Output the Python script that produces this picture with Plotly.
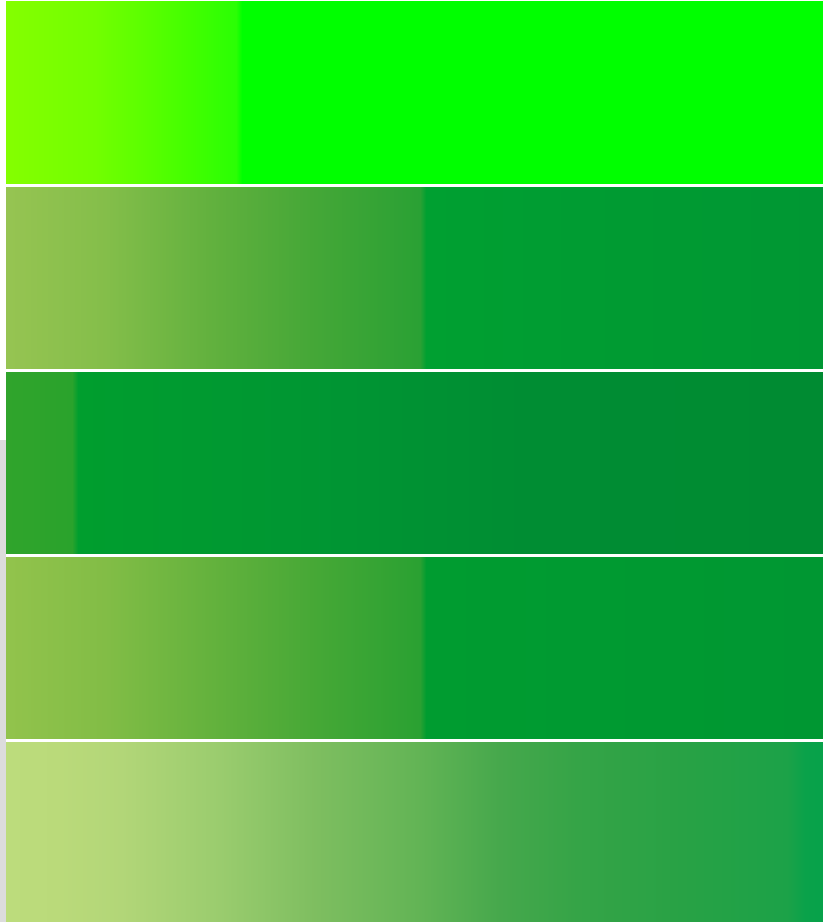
import plotly.graph_objects as go

# Row vertical extents (pixel units, y axis reversed)
row_names = ["Row 1", "Row 2", "Row 3", "Row 4", "Row 5"]
row_top = [1.0, 187.0, 372.0, 557.0, 742.0]
row_bottom = [184.0, 369.0, 553.5, 739.0, 926.0]

# Colour stops along x for each row
row1_x = [6, 95, 150, 190, 236, 242, 823]
row1_c = ["#84ff00", "#72ff00", "#58ff00", "#42ff00", "#2aff04", "#00ff00", "#00ff00"]

row2_x = [6, 105, 210, 315, 420, 426, 580, 823]
row2_c = ["#96c452", "#84be4a", "#62b13e", "#44a737", "#2aa134", "#00a031", "#009c32", "#009733"]

row3_x = [6, 72, 78, 345, 525, 823]
row3_c = ["#30a42c", "#2aa32c", "#009e2e", "#009533", "#008d33", "#008b32"]

row4_x = [6, 105, 210, 315, 420, 426, 823]
row4_c = ["#92c34c", "#82bd46", "#64b23d", "#46a836", "#2aa132", "#009c30", "#009732"]

row5_x = [6, 60, 121, 220, 315, 420, 500, 577, 682, 787, 805, 823]
row5_c = ["#bcdc7c", "#bada7a", "#b2d678", "#9acc6e", "#7ebe60", "#62b455",
          "#46a84c", "#35a447", "#28a245", "#1ca248", "#0aa24a", "#07a24a"]

rows_x = [row1_x, row2_x, row3_x, row4_x, row5_x]
rows_c = [row1_c, row2_c, row3_c, row4_c, row5_c]

fig = go.Figure()
for name, xs, cs, y0, y1 in zip(row_names, rows_x, rows_c, row_top, row_bottom):
    span = xs[-1] - xs[0]
    z = [(x - xs[0]) / span for x in xs]
    cscale = [[zz, c] for zz, c in zip(z, cs)]
    fig.add_trace(go.Heatmap(
        x=xs, y=[y0, y1], z=[z],
        zmin=0, zmax=1, colorscale=cscale, zsmooth="best",
        showscale=False, hoverinfo="skip", name=name,
    ))

fig.add_shape(type="rect", xref="paper", yref="paper",
              x0=-6 / 817, x1=0, y0=0, y1=(922 - 440) / 922,
              fillcolor="#dcdcdc", line_width=0, layer="below")

fig.update_layout(
    width=823, height=922,
    margin=dict(l=6, r=0, t=0, b=0),
    paper_bgcolor="white", plot_bgcolor="white",
    xaxis=dict(range=[6, 823], visible=False, fixedrange=True),
    yaxis=dict(range=[922, 0], visible=False, fixedrange=True),
    showlegend=False,
)

fig.write_html("out.html", config={"displayModeBar": False},
               post_script="document.body.style.margin='0';")
